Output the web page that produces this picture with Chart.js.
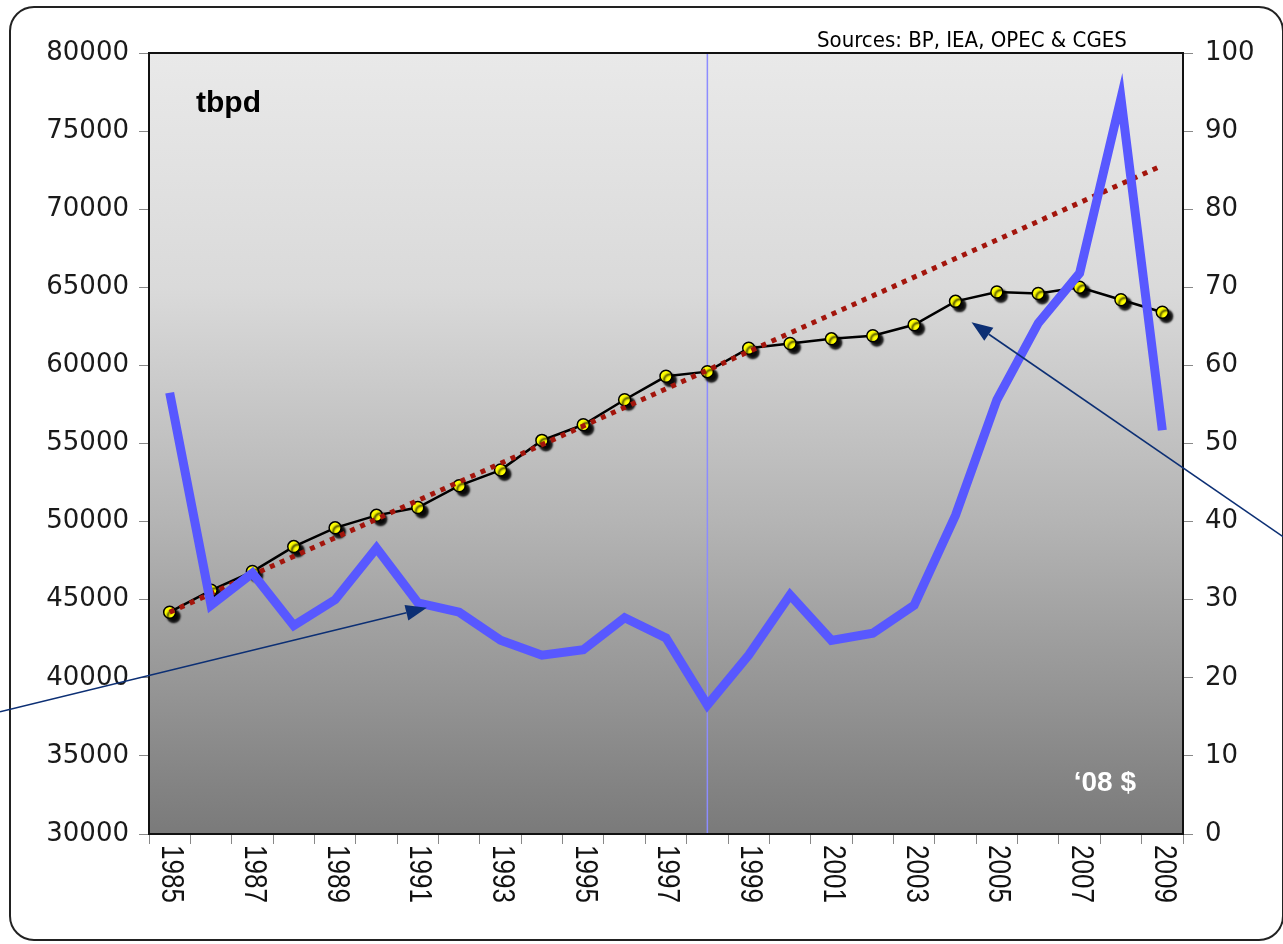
<!DOCTYPE html>
<html>
<head>
<meta charset="utf-8">
<script src="https://cdn.jsdelivr.net/npm/chart.js@4.4.1/dist/chart.umd.min.js"></script>
<style>
  body { margin: 0; background: #fff; }
  canvas { display: block; }
</style>
</head>
<body>
<canvas id="oilChart" width="1283" height="944"></canvas>
<script>
// categories
var years = ['1985', '1986', '1987', '1988', '1989', '1990', '1991', '1992', '1993', '1994', '1995', '1996', '1997',
             '1998', '1999', '2000', '2001', '2002', '2003', '2004', '2005', '2006', '2007', '2008', '2009'];
// only every other year gets a label under the axis
var yearLabels = ['1985', '1987', '1989', '1991', '1993', '1995', '1997', '1999', '2001', '2003', '2005', '2007', '2009'];

// world oil production, thousand barrels per day (left axis)
var production = [44200, 45600, 46800, 48400, 49600, 50400, 50900, 52300, 53300, 55200, 56200, 57800, 59300,
                  59600, 61100, 61400, 61700, 61900, 62600, 64100, 64700, 64600, 65000, 64200, 63400];

// oil price in 2008 dollars (right axis)
var price = [56.5, 29.3, 33.4, 26.7, 30.0, 36.6, 29.6, 28.4, 24.8, 22.9, 23.6, 27.7, 25.1,
             16.5, 22.9, 30.6, 24.8, 25.7, 29.3, 40.8, 55.6, 65.4, 71.8, 94.2, 51.7];

// straight trend of production: first and last year only, the line spans the gap
var trend = [44200, null, null, null, null, null, null, null, null, null, null, null, null,
             null, null, null, null, null, null, null, null, null, null, null, 72800];

// axis tick values
var leftTicks = [30000, 35000, 40000, 45000, 50000, 55000, 60000, 65000, 70000, 75000, 80000];
var rightTicks = [0, 10, 20, 30, 40, 50, 60, 70, 80, 90, 100];

var markYear = '1998';

// rounded frame, grey plot background
var framePlugin = {
    id: 'frame',
    beforeDraw: function (chart) {
        var ctx = chart.ctx;
        var a = chart.chartArea;
        ctx.save();
        ctx.fillStyle = '#ffffff';
        ctx.fillRect(0, 0, chart.width, chart.height);

        ctx.beginPath();
        ctx.roundRect(10, 7, 1273, 933, 24);
        ctx.strokeStyle = '#222';
        ctx.lineWidth = 2;
        ctx.stroke();

        var g = ctx.createLinearGradient(0, a.top, 0, a.bottom);
        g.addColorStop(0, '#e9e9e9');
        g.addColorStop(0.3, '#dadada');
        g.addColorStop(0.6, '#b4b4b4');
        g.addColorStop(1, '#7a7a7a');
        ctx.fillStyle = g;
        ctx.fillRect(a.left, a.top, a.right - a.left, a.bottom - a.top);
        ctx.restore();
    },
    beforeDatasetsDraw: function (chart) {
        // thin vertical marker at 1998
        var ctx = chart.ctx;
        var a = chart.chartArea;
        var x = chart.scales.x.getPixelForValue(years.indexOf(markYear));
        ctx.save();
        ctx.strokeStyle = '#8c8cff';
        ctx.lineWidth = 1.5;
        ctx.beginPath();
        ctx.moveTo(x, a.top);
        ctx.lineTo(x, a.bottom);
        ctx.stroke();
        ctx.restore();
    }
};

// drop shadow behind the yellow markers
var shadowPlugin = {
    id: 'markerShadow',
    beforeDatasetDraw: function (chart, args) {
        if (chart.data.datasets[args.index].shadow) {
            var ctx = chart.ctx;
            ctx.save();
            ctx.shadowColor = 'rgba(0,0,0,0.95)';
            ctx.shadowOffsetX = 4;
            ctx.shadowOffsetY = 4;
            ctx.shadowBlur = 2;
        }
    },
    afterDatasetDraw: function (chart, args) {
        if (chart.data.datasets[args.index].shadow) {
            chart.ctx.restore();
        }
    }
};

function drawArrow(ctx, fx, fy, tx, ty) {
    var ang = Math.atan2(ty - fy, tx - fx);
    var len = 21, half = 8;
    var bx = tx - len * Math.cos(ang), by = ty - len * Math.sin(ang);
    ctx.beginPath();
    ctx.moveTo(fx, fy);
    ctx.lineTo(bx, by);
    ctx.stroke();
    ctx.beginPath();
    ctx.moveTo(tx, ty);
    ctx.lineTo(bx + half * Math.sin(ang), by - half * Math.cos(ang));
    ctx.lineTo(bx - half * Math.sin(ang), by + half * Math.cos(ang));
    ctx.closePath();
    ctx.fill();
}

// plot border, year labels, notes and arrows
var overlayPlugin = {
    id: 'overlay',
    afterDraw: function (chart) {
        var ctx = chart.ctx;
        var a = chart.chartArea;
        var xs = chart.scales.x, yl = chart.scales.y, yr = chart.scales.y1;
        ctx.save();

        ctx.strokeStyle = '#111';
        ctx.lineWidth = 2;
        ctx.strokeRect(a.left, a.top, a.right - a.left, a.bottom - a.top);

        // year labels, turned to read downwards
        ctx.fillStyle = '#111';
        ctx.font = '26px "Liberation Sans", Arial, sans-serif';
        ctx.textAlign = 'left';
        ctx.textBaseline = 'middle';
        yearLabels.forEach(function (lab) {
            var x = xs.getPixelForValue(years.indexOf(lab));
            ctx.save();
            ctx.translate(x + 1, a.bottom + 11);
            ctx.scale(1.2, 1);
            ctx.rotate(Math.PI / 2);
            ctx.fillText(lab, 0, 0);
            ctx.restore();
        });

        ctx.textBaseline = 'alphabetic';
        ctx.fillStyle = '#000';
        ctx.font = 'bold 30px "Liberation Sans", Arial, sans-serif';
        ctx.fillText('tbpd', a.left + 47, a.top + 59);

        ctx.font = '22px "Liberation Sans Narrow", "DejaVu Sans Condensed", sans-serif';
        ctx.fillText('Sources: BP, IEA, OPEC & CGES', 817, 47);

        ctx.fillStyle = '#ffffff';
        ctx.textAlign = 'right';
        ctx.font = 'bold 28px "Liberation Sans", Arial, sans-serif';
        ctx.fillText('\u201808 $', a.right - 47, 791);

        // pointers to the price line (1991) and the production line (2004)
        ctx.strokeStyle = '#0c2f74';
        ctx.fillStyle = '#0c2f74';
        ctx.lineWidth = 1.6;
        var t1x = xs.getPixelForValue(years.indexOf('1991')) + 9;
        var t1y = yr.getPixelForValue(price[years.indexOf('1991')]) + 5;
        drawArrow(ctx, 0, t1y + t1x * 0.2436, t1x, t1y);
        var t2x = xs.getPixelForValue(years.indexOf('2004')) + 16;
        var t2y = yl.getPixelForValue(production[years.indexOf('2004')]) + 21;
        drawArrow(ctx, chart.width, t2y + (chart.width - t2x) * 0.688, t2x, t2y);

        ctx.restore();
    }
};

var ctx = document.getElementById('oilChart').getContext('2d');
var oilChart = new Chart(ctx, {
    type: 'line',
    data: {
        labels: years,
        datasets: [
            {
                // price in '08 dollars, drawn on top
                label: 'Price',
                data: price,
                yAxisID: 'y1',
                borderColor: '#5858ff',
                borderWidth: 9,
                borderJoinStyle: 'miter',
                borderCapStyle: 'butt',
                pointRadius: 0,
                tension: 0,
                order: 0
            },
            {
                label: 'Trend',
                data: trend,
                yAxisID: 'y',
                borderColor: '#a3150c',
                borderWidth: 5,
                borderDash: [5, 6],
                borderCapStyle: 'butt',
                spanGaps: true,
                pointRadius: 0,
                order: 1
            },
            {
                label: 'Markers',
                data: production,
                yAxisID: 'y',
                showLine: false,
                shadow: true,
                pointRadius: 6,
                pointBackgroundColor: '#ffff00',
                pointBorderColor: '#000',
                pointBorderWidth: 1.5,
                order: 2
            },
            {
                label: 'Production',
                data: production,
                yAxisID: 'y',
                borderColor: '#000',
                borderWidth: 2.5,
                pointRadius: 0,
                tension: 0,
                order: 3
            }
        ]
    },
    options: {
        responsive: false,
        animation: false,
        layout: { padding: { top: 53, left: 0, right: 0, bottom: 0 } },
        plugins: {
            legend: { display: false },
            tooltip: { enabled: false }
        },
        scales: {
            x: {
                offset: true,
                grid: { offset: true, drawOnChartArea: false, color: '#888', tickLength: 10 },
                border: { color: '#111', width: 2 },
                ticks: { display: false },
                afterFit: function (s) { s.height = 110; }
            },
            y: {
                position: 'left',
                min: 30000,
                max: 80000,
                afterBuildTicks: function (s) { s.ticks = leftTicks.map(function (v) { return { value: v }; }); },
                grid: { drawOnChartArea: false, color: '#888', tickLength: 10 },
                border: { color: '#111', width: 2 },
                ticks: {
                    color: '#1a1a1a',
                    padding: 10,
                    font: { family: 'DejaVu Sans', size: 26 },
                    callback: function (v) { return String(v); }
                },
                afterFit: function (s) { s.width = 149; }
            },
            y1: {
                position: 'right',
                min: 0,
                max: 100,
                afterBuildTicks: function (s) { s.ticks = rightTicks.map(function (v) { return { value: v }; }); },
                grid: { drawOnChartArea: false, color: '#888', tickLength: 10 },
                border: { color: '#111', width: 2 },
                ticks: {
                    color: '#1a1a1a',
                    padding: 12,
                    font: { family: 'DejaVu Sans', size: 26 },
                    callback: function (v) { return String(v); }
                },
                afterFit: function (s) { s.width = 100; }
            }
        }
    },
    plugins: [framePlugin, shadowPlugin, overlayPlugin]
});
</script>
</body>
</html>
